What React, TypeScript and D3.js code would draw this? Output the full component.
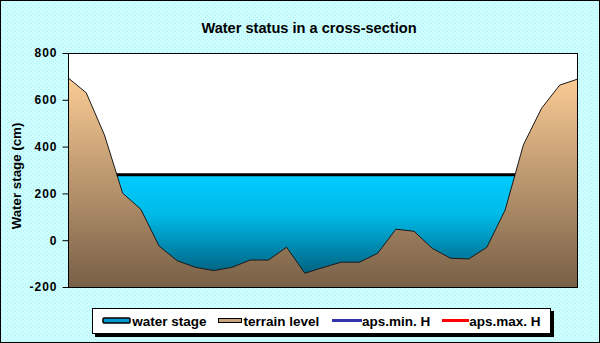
import React, { useEffect, useRef } from 'react';
import * as d3 from 'd3';

// terrain profile across the section, left bank to right bank (cm)
const terrainLevel = [
  694, 630, 450, 201, 132, -25, -88, -116, -130, -116, -85, -85, -30, -141, -117,
  -94, -94, -56, 47, 38, -35, -77, -80, -30, 129, 407, 564, 663, 689,
];
const waterStage = 280;
const yTicks = [-200, 0, 200, 400, 600, 800];
const legendLabels = ['water stage', 'terrain level', 'aps.min. H', 'aps.max. H'];

const W = 600;
const H = 343;
const margin = { top: 53, right: 22, bottom: 56, left: 68 };
const FONT = 'Arial, "Liberation Sans", sans-serif';

const App = () => {
  const ref = useRef<SVGSVGElement | null>(null);

  useEffect(() => {
    if (!ref.current) return;
    const svg = d3.select(ref.current);
    svg.selectAll('*').remove();

    const x = d3
      .scaleLinear()
      .domain([0, terrainLevel.length - 1])
      .range([margin.left, W - margin.right]);
    const y = d3
      .scaleLinear()
      .domain([-200, 800])
      .range([H - margin.bottom, margin.top]);

    const defs = svg.append('defs');

    const pat = defs
      .append('pattern')
      .attr('id', 'bgdots')
      .attr('width', 4)
      .attr('height', 4)
      .attr('patternUnits', 'userSpaceOnUse');
    pat.append('rect').attr('width', 4).attr('height', 4).attr('fill', '#CCFFFF');
    pat.append('rect').attr('x', 1).attr('y', 1).attr('width', 1).attr('height', 1).attr('fill', '#B4E8EE');
    pat.append('rect').attr('x', 3).attr('y', 3).attr('width', 1).attr('height', 1).attr('fill', '#B4E8EE');

    const wg = defs
      .append('linearGradient')
      .attr('id', 'waterGrad')
      .attr('gradientUnits', 'userSpaceOnUse')
      .attr('x1', 0).attr('x2', 0)
      .attr('y1', y(waterStage))
      .attr('y2', y(-200));
    wg.append('stop').attr('offset', 0).attr('stop-color', '#00CCFF');
    wg.append('stop').attr('offset', 0.35).attr('stop-color', '#00BBE8');
    wg.append('stop').attr('offset', 1).attr('stop-color', '#004E6A');

    const tg = defs
      .append('linearGradient')
      .attr('id', 'terrainGrad')
      .attr('gradientUnits', 'userSpaceOnUse')
      .attr('x1', 0).attr('x2', 0)
      .attr('y1', y(d3.max(terrainLevel) as number))
      .attr('y2', y(-200));
    tg.append('stop').attr('offset', 0).attr('stop-color', '#FACB94');
    tg.append('stop').attr('offset', 1).attr('stop-color', '#786047');

    // background + frame
    svg.append('rect')
      .attr('x', 0.5).attr('y', 0.5)
      .attr('width', W - 1).attr('height', H - 1)
      .attr('fill', 'url(#bgdots)')
      .attr('stroke', '#000');

    // title
    svg.append('text')
      .attr('x', 309)
      .attr('y', 32.5)
      .attr('text-anchor', 'middle')
      .attr('font-family', FONT)
      .attr('font-weight', 'bold')
      .attr('font-size', 14.6)
      .text('Water status in a cross-section');

    // plot area
    svg.append('rect')
      .attr('x', margin.left)
      .attr('y', margin.top)
      .attr('width', W - margin.left - margin.right)
      .attr('height', H - margin.top - margin.bottom)
      .attr('fill', '#fff');

    // where the water surface meets the banks
    const crossing = (i: number) => {
      const a = terrainLevel[i];
      const b = terrainLevel[i + 1];
      return i + (a - waterStage) / (a - b);
    };
    let leftIdx = 0;
    for (let i = 0; i < terrainLevel.length - 1; i++) {
      if (terrainLevel[i] > waterStage && terrainLevel[i + 1] <= waterStage) { leftIdx = crossing(i); break; }
    }
    let rightIdx = terrainLevel.length - 1;
    for (let i = terrainLevel.length - 2; i >= 0; i--) {
      if (terrainLevel[i] <= waterStage && terrainLevel[i + 1] > waterStage) { rightIdx = crossing(i); break; }
    }

    const waterPts: [number, number][] = [[leftIdx, waterStage], [rightIdx, waterStage]];
    svg.append('path')
      .datum(waterPts)
      .attr('d', d3.area<[number, number]>().x(d => x(d[0])).y0(y(-200)).y1(d => y(d[1])))
      .attr('fill', 'url(#waterGrad)');

    svg.append('path')
      .datum(terrainLevel)
      .attr('d', d3.area<number>().x((_, i) => x(i)).y0(y(-200)).y1(d => y(d)))
      .attr('fill', 'url(#terrainGrad)');

    svg.append('path')
      .datum(terrainLevel)
      .attr('d', d3.line<number>().x((_, i) => x(i)).y(d => y(d)))
      .attr('fill', 'none')
      .attr('stroke', '#1a1a1a')
      .attr('stroke-width', 1);

    svg.append('path')
      .datum(waterPts)
      .attr('d', d3.line<[number, number]>().x(d => x(d[0])).y(d => y(d[1])))
      .attr('fill', 'none')
      .attr('stroke', '#000')
      .attr('stroke-width', 3);

    // plot border
    svg.append('rect')
      .attr('x', margin.left + 0.5)
      .attr('y', margin.top + 0.5)
      .attr('width', W - margin.left - margin.right - 1)
      .attr('height', H - margin.top - margin.bottom)
      .attr('fill', 'none')
      .attr('stroke', '#000');

    // y axis
    const yAxis = svg.append('g')
      .attr('transform', `translate(${margin.left + 0.5},0)`)
      .call(d3.axisLeft(y).tickValues(yTicks).tickSize(6).tickPadding(5).tickFormat(d => String(d)));
    yAxis.select('.domain').remove();
    yAxis.selectAll('line').attr('stroke', '#000');
    yAxis.selectAll('text')
      .attr('font-family', FONT)
      .attr('font-weight', 'bold')
      .attr('font-size', 12)
      .attr('letter-spacing', 1)
      .attr('fill', '#000');

    svg.append('text')
      .attr('transform', `translate(20.5,176) rotate(-90)`)
      .attr('text-anchor', 'middle')
      .attr('font-family', FONT)
      .attr('font-weight', 'bold')
      .attr('font-size', 13.3)
      .text('Water stage (cm)');

    // legend
    const lg = svg.append('g');
    lg.append('rect').attr('x', 95).attr('y', 311).attr('width', 459).attr('height', 26).attr('fill', '#000');
    lg.append('rect').attr('x', 92.5).attr('y', 308.5).attr('width', 458).attr('height', 25)
      .attr('fill', '#fff').attr('stroke', '#000');

    const lx = [103, 218, 332, 442];
    const tx = [132.3, 243.5, 362, 469.3];
    const baseY = 326;
    lg.append('rect').attr('x', lx[0]).attr('y', 318).attr('width', 27).attr('height', 5)
      .attr('fill', '#0099CC').attr('stroke', '#000').attr('stroke-width', 1.5).attr('rx', 1);
    lg.append('rect').attr('x', lx[1] + 0.5).attr('y', 318.5).attr('width', 23).attr('height', 4)
      .attr('fill', '#C8A27A').attr('stroke', '#000').attr('stroke-width', 1);
    lg.append('line').attr('x1', lx[2]).attr('x2', lx[2] + 30).attr('y1', 320.5).attr('y2', 320.5)
      .attr('stroke', '#3333AA').attr('stroke-width', 3);
    lg.append('line').attr('x1', lx[3]).attr('x2', lx[3] + 27).attr('y1', 320.5).attr('y2', 320.5)
      .attr('stroke', '#FF0000').attr('stroke-width', 3);

    lg.selectAll('text.lbl')
      .data(legendLabels)
      .enter()
      .append('text')
      .attr('class', 'lbl')
      .attr('x', (_, i) => tx[i])
      .attr('y', baseY)
      .attr('font-family', FONT)
      .attr('font-weight', 'bold')
      .attr('font-size', 13.5)
      .text(d => d);
  }, []);

  return (
    <svg
      ref={ref}
      width={W}
      height={H}
      style={{ position: 'absolute', left: 0, top: 0, display: 'block' }}
    />
  );
};

export default App;
